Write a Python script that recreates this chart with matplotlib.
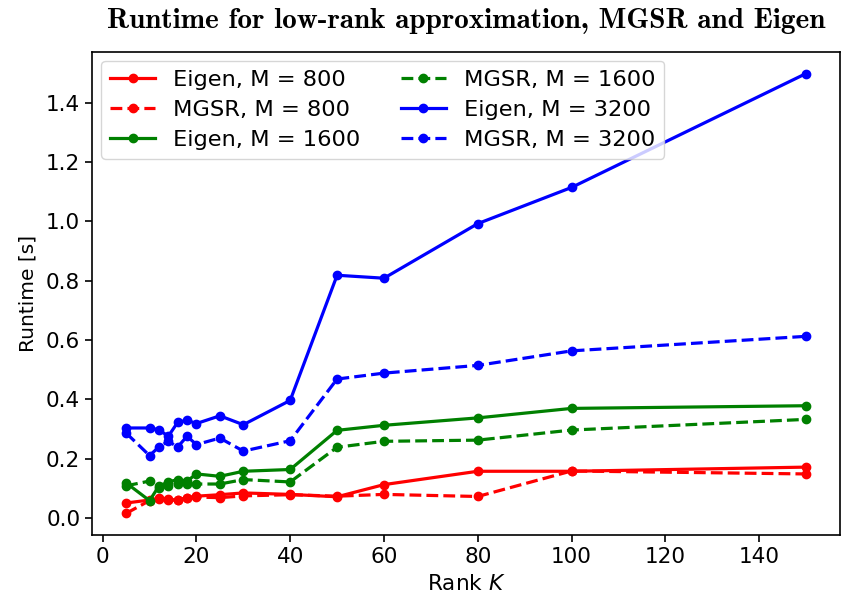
import matplotlib
matplotlib.use("Agg")
import matplotlib.pyplot as plt

# ranks K
rank = [5, 10, 12, 14, 16, 18, 20, 25, 30, 40, 50, 60, 80, 100, 150]

# runtimes [s]
eigen_800 = [0.050, 0.060, 0.065, 0.062, 0.060, 0.068, 0.073, 0.078, 0.084, 0.079, 0.071, 0.112, 0.157, 0.157, 0.171]
mgsr_800 = [0.015, 0.058, 0.068, 0.060, 0.060, 0.067, 0.070, 0.068, 0.074, 0.078, 0.073, 0.079, 0.072, 0.158, 0.148]
eigen_1600 = [0.118, 0.058, 0.107, 0.121, 0.129, 0.124, 0.148, 0.140, 0.157, 0.163, 0.295, 0.312, 0.337, 0.369, 0.378]
mgsr_1600 = [0.108, 0.124, 0.100, 0.107, 0.114, 0.114, 0.114, 0.114, 0.129, 0.121, 0.238, 0.258, 0.262, 0.296, 0.332]
eigen_3200 = [0.303, 0.303, 0.297, 0.275, 0.322, 0.329, 0.318, 0.344, 0.314, 0.396, 0.818, 0.808, 0.992, 1.114, 1.498]
mgsr_3200 = [0.286, 0.210, 0.239, 0.258, 0.239, 0.275, 0.247, 0.269, 0.225, 0.260, 0.468, 0.488, 0.514, 0.563, 0.612]

series = [
    ("Eigen, M = 800", eigen_800, "red", "-"),
    ("MGSR, M = 800", mgsr_800, "red", "--"),
    ("Eigen, M = 1600", eigen_1600, "green", "-"),
    ("MGSR, M = 1600", mgsr_1600, "green", "--"),
    ("Eigen, M = 3200", eigen_3200, "blue", "-"),
    ("MGSR, M = 3200", mgsr_3200, "blue", "--"),
]

fig = plt.figure(figsize=(8.45, 6.07), dpi=100)
ax = fig.add_axes([0.109, 0.118, 0.885, 0.797])

for label, vals, color, ls in series:
    ax.plot(rank, vals, color=color, linestyle=ls, marker="o", markersize=6,
            linewidth=2.3, label=label)

ax.set_title("Runtime for low-rank approximation, MGSR and Eigen",
             fontfamily="cmb10", fontsize=21, pad=17)
ax.set_ylabel("Runtime [s]", fontsize=14.5, labelpad=6)
ax.set_xlabel(r"Rank $K$", fontsize=15.5, labelpad=5)
ax.set_yticks([0.0, 0.2, 0.4, 0.6, 0.8, 1.0, 1.2, 1.4])
ax.tick_params(labelsize=15.5, width=1.2, length=5)
for sp in ax.spines.values():
    sp.set_linewidth(1.2)

ax.legend(loc="upper left", ncol=2, fontsize=16.2, handlelength=2.0,
          columnspacing=1.8, labelspacing=0.45, borderaxespad=0.4)

fig.savefig("out.png", dpi=100)
